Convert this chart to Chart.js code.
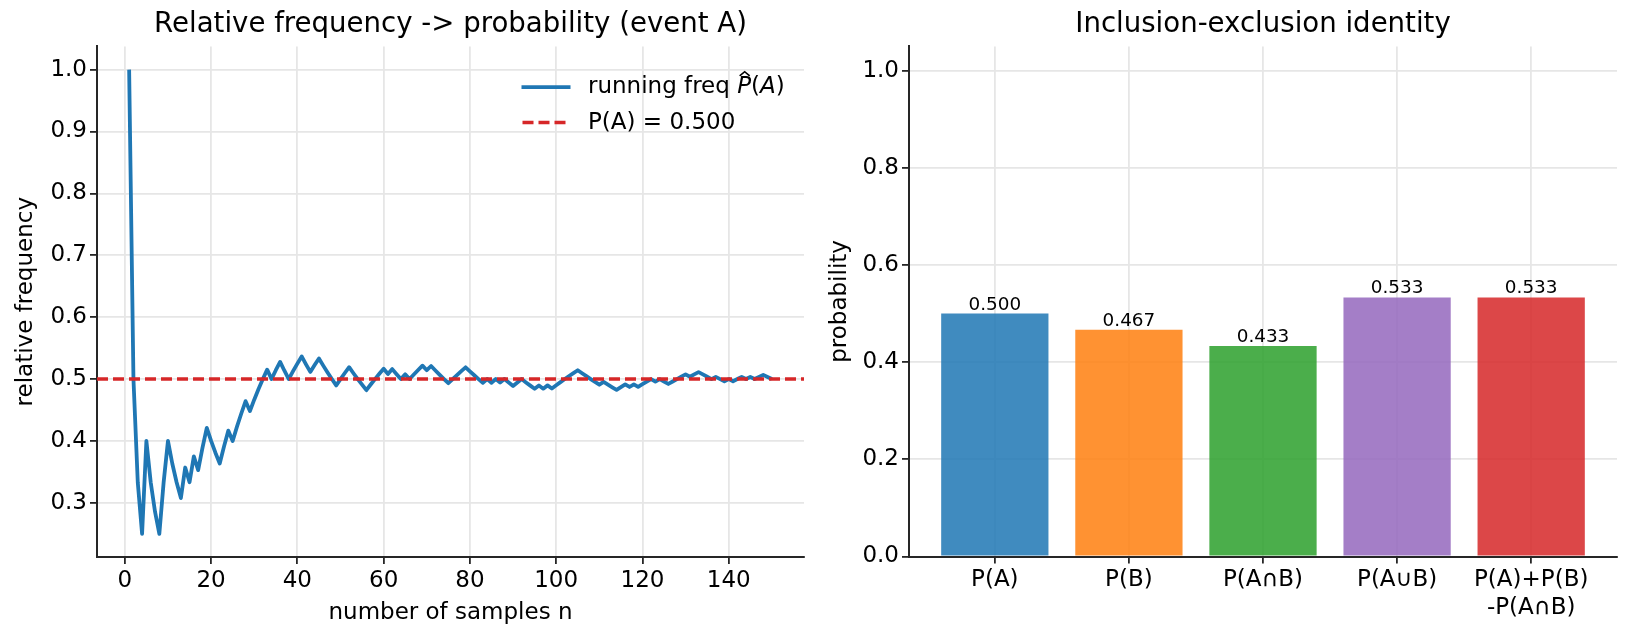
<!DOCTYPE html>
<html><head><meta charset="utf-8">
<script src="https://cdn.jsdelivr.net/npm/chart.js@4.4.1/dist/chart.umd.min.js"></script>
<style>
html,body{margin:0;padding:0;background:#fff;width:1631px;height:641px;overflow:hidden}
#c1{position:absolute;left:0;top:0}
#c2{position:absolute;left:815px;top:0}
</style></head><body>
<canvas id="c1" width="815" height="641"></canvas>
<canvas id="c2" width="816" height="641"></canvas>
<script>
// ---------- data: left panel ----------
const runningFreq = [
 1.0, 0.5, 0.3333, 0.25, 0.4, 0.3333, 0.2857, 0.25, 0.3333, 0.4,
 0.3636, 0.3333, 0.3077, 0.3571, 0.3333, 0.375, 0.3529, 0.3889, 0.4211, 0.4,
 0.381, 0.3636, 0.3913, 0.4167, 0.4, 0.4231, 0.4444, 0.4643, 0.4483, 0.4667,
 0.4839, 0.5, 0.5152, 0.5, 0.5143, 0.5278, 0.5135, 0.5, 0.5128, 0.525,
 0.5366, 0.5238, 0.5116, 0.5227, 0.5333, 0.5217, 0.5106, 0.5, 0.4898, 0.5,
 0.5098, 0.5192, 0.5094, 0.5, 0.4909, 0.4821, 0.4912, 0.5, 0.5085, 0.5167,
 0.5082, 0.5161, 0.5079, 0.5, 0.5077, 0.5, 0.5075, 0.5147, 0.5217, 0.5143,
 0.5211, 0.5139, 0.5068, 0.5, 0.4933, 0.5, 0.5065, 0.5128, 0.519, 0.5125,
 0.5062, 0.5, 0.494, 0.5, 0.4941, 0.5, 0.4943, 0.5, 0.4944, 0.4889,
 0.4945, 0.5, 0.4946, 0.4894, 0.4842, 0.4896, 0.4845, 0.4898, 0.4848, 0.49,
 0.495, 0.5, 0.5049, 0.5096, 0.5143, 0.5094, 0.5047, 0.5, 0.4954, 0.4909,
 0.4955, 0.4911, 0.4867, 0.4825, 0.487, 0.4914, 0.4872, 0.4915, 0.4874, 0.4917,
 0.4959, 0.5, 0.4959, 0.5, 0.496, 0.4921, 0.4961, 0.5, 0.5039, 0.5077,
 0.5038, 0.5076, 0.5113, 0.5075, 0.5037, 0.5, 0.5036, 0.5, 0.4964, 0.5,
 0.4965, 0.5, 0.5035, 0.5, 0.5034, 0.5, 0.5034, 0.5068, 0.5034, 0.5
];
const sampleN = runningFreq.map((_, i) => i + 1);
const trueProbA = 0.5;
const lineXTicks = [0, 20, 40, 60, 80, 100, 120, 140];
const lineXTickLabels = ['0', '20', '40', '60', '80', '100', '120', '140'];
const lineYTicks = [0.3, 0.4, 0.5, 0.6, 0.7, 0.8, 0.9, 1.0];
const lineYTickLabels = ['0.3', '0.4', '0.5', '0.6', '0.7', '0.8', '0.9', '1.0'];

// ---------- data: right panel ----------
const barCategories = ['P(A)', 'P(B)', 'P(A∩B)', 'P(A∪B)', ['P(A)+P(B)', '-P(A∩B)']];
const barValues = [0.5, 0.4667, 0.4333, 0.5333, 0.5333];
const barValueLabels = ['0.500', '0.467', '0.433', '0.533', '0.533'];
const barYTicks = [0.0, 0.2, 0.4, 0.6, 0.8, 1.0];
const barYTickLabels = ['0.0', '0.2', '0.4', '0.6', '0.8', '1.0'];
const barColors = ['rgba(31,119,180,0.85)', 'rgba(255,127,14,0.85)', 'rgba(44,160,44,0.85)',
                   'rgba(148,103,189,0.85)', 'rgba(214,39,40,0.85)'];

// ---------- styling ----------
const FONT = '"DejaVu Sans"';
Chart.defaults.font.family = FONT;
Chart.defaults.color = '#000';
const TXT = 23, TITLE = 27.6, VAL = 18.4;

function axisStyle(extra, labels) {
  const base = {
    grid: { color: '#e6e6e6', lineWidth: 1.8, tickLength: 7, tickColor: '#262626', tickWidth: 1.8, offset: false },
    border: { color: '#262626', width: 2 },
    ticks: { color: '#000', font: { size: TXT }, autoSkip: false, maxRotation: 0, minRotation: 0,
             callback: (v, i) => labels[i] }
  };
  return Object.assign(base, extra);
}
function fixTicks(values) {
  return s => { s.ticks = values.map(v => ({ value: v })); };
}

// ---------- left chart ----------
const xLim = [-6.45, 157.45];
const legendPlugin = {
  id: 'mplLegend',
  afterDraw(chart) {
    const ctx = chart.ctx, ca = chart.chartArea;
    const ds = chart.data.datasets;
    const x0 = ca.right - 282.5, x1 = x0 + 49, tx = x0 + 66.5;
    const rows = [ca.top + 40.8, ca.top + 76.2];
    ctx.save();
    ctx.strokeStyle = ds[0].borderColor; ctx.lineWidth = 3.8; ctx.setLineDash([]);
    ctx.beginPath(); ctx.moveTo(x0, rows[0]); ctx.lineTo(x1, rows[0]); ctx.stroke();
    ctx.strokeStyle = ds[1].borderColor; ctx.lineWidth = 3.5; ctx.setLineDash([11, 5]);
    ctx.beginPath(); ctx.moveTo(x0 + 1, rows[1]); ctx.lineTo(x1 - 4, rows[1]); ctx.stroke();
    ctx.setLineDash([]);
    ctx.fillStyle = '#000'; ctx.textBaseline = 'middle'; ctx.textAlign = 'left';
    const lbl = ds[0].label;
    const plain = lbl.slice(0, lbl.indexOf('P'));
    ctx.font = TXT + 'px ' + FONT;
    ctx.fillText(plain, tx, rows[0]);
    let x = tx + ctx.measureText(plain).width;
    ctx.font = 'italic ' + TXT + 'px ' + FONT;
    ctx.fillText('P', x, rows[0]);
    const pw = ctx.measureText('P').width;
    const base = rows[0] + 0.346 * TXT;
    const hc = x + 7.5;
    ctx.beginPath();
    ctx.moveTo(hc - 5, base - 19.3); ctx.lineTo(hc, base - 23.5); ctx.lineTo(hc + 5, base - 19.3);
    ctx.lineWidth = 1.6; ctx.strokeStyle = '#000'; ctx.stroke();
    x += pw;
    ctx.font = TXT + 'px ' + FONT;
    ctx.fillText('(', x, rows[0]); x += ctx.measureText('(').width;
    ctx.font = 'italic ' + TXT + 'px ' + FONT;
    ctx.fillText('A', x, rows[0]); x += ctx.measureText('A').width;
    ctx.font = TXT + 'px ' + FONT;
    ctx.fillText(')', x, rows[0]);
    ctx.fillText(ds[1].label, tx, rows[1]);
    ctx.restore();
  }
};

new Chart(document.getElementById('c1'), {
  type: 'line',
  data: {
    datasets: [
      {
        label: 'running freq P̂(A)',
        data: sampleN.map((n, i) => ({ x: n, y: runningFreq[i] })),
        borderColor: '#1f77b4', borderWidth: 3.8, pointRadius: 0, tension: 0,
        borderJoinStyle: 'round', fill: false, order: 1
      },
      {
        label: 'P(A) = ' + trueProbA.toFixed(3),
        data: [{ x: xLim[0], y: trueProbA }, { x: xLim[1], y: trueProbA }],
        borderColor: '#d62728', borderWidth: 3.5, borderDash: [11, 5], pointRadius: 0,
        fill: false, order: 0
      }
    ]
  },
  options: {
    responsive: false, animation: false, events: [],
    layout: { padding: { left: 0, right: 11, top: 0, bottom: 0 } },
    plugins: {
      legend: { display: false }, tooltip: { enabled: false },
      title: {
        display: true, text: 'Relative frequency -> probability (event A)', fullSize: false,
        color: '#000', font: { size: TITLE, weight: 'normal' }, padding: { top: 8.4, bottom: 4.9 }
      }
    },
    scales: {
      x: axisStyle({
        type: 'linear', min: xLim[0], max: xLim[1],
        afterBuildTicks: fixTicks(lineXTicks),
        afterFit: s => { s.height = 84; },
        title: { display: true, text: 'number of samples n', color: '#000', font: { size: TXT }, padding: { top: 0, bottom: 14.5 } }
      }, lineXTickLabels),
      y: axisStyle({
        type: 'linear', min: 0.2125, max: 1.0375,
        afterBuildTicks: fixTicks(lineYTicks),
        afterFit: s => { s.width = 97; },
        title: { display: true, text: 'relative frequency', color: '#000', font: { size: TXT }, padding: { top: 12.2, bottom: 0 } }
      }, lineYTickLabels)
    }
  },
  plugins: [legendPlugin]
});

// ---------- right chart ----------
const valueLabelPlugin = {
  id: 'valueLabels',
  afterDatasetsDraw(chart) {
    const ctx = chart.ctx, meta = chart.getDatasetMeta(0);
    ctx.save();
    ctx.font = VAL + 'px ' + FONT; ctx.fillStyle = '#000';
    ctx.textAlign = 'center'; ctx.textBaseline = 'alphabetic';
    meta.data.forEach((bar, i) => ctx.fillText(barValueLabels[i], bar.x, bar.y - 4));
    ctx.restore();
  }
};

new Chart(document.getElementById('c2'), {
  type: 'bar',
  data: {
    datasets: [{
      label: 'probability',
      data: barValues.map((v, i) => ({ x: i, y: v })),
      backgroundColor: barColors, borderWidth: 0,
      categoryPercentage: 1.0, barPercentage: 0.8
    }]
  },
  options: {
    responsive: false, animation: false, events: [],
    layout: { padding: { left: 0, right: 14, top: 0, bottom: 0 } },
    plugins: {
      legend: { display: false }, tooltip: { enabled: false },
      title: {
        display: true, text: 'Inclusion-exclusion identity', fullSize: false,
        color: '#000', font: { size: TITLE, weight: 'normal' }, padding: { top: 8.4, bottom: 4.9 }
      }
    },
    scales: {
      x: axisStyle({
        type: 'linear', min: -0.64, max: 4.64, offset: false,
        afterBuildTicks: fixTicks(barCategories.map((_, i) => i)),
        afterFit: s => { s.height = 84.5; }
      }, barCategories),
      y: axisStyle({
        type: 'linear', min: 0, max: 1.05,
        afterBuildTicks: fixTicks(barYTicks),
        afterFit: s => { s.width = 94; },
        title: { display: true, text: 'probability', color: '#000', font: { size: TXT }, padding: { top: 11.7, bottom: 0 } }
      }, barYTickLabels)
    }
  },
  plugins: [valueLabelPlugin]
});
</script>
</body></html>
